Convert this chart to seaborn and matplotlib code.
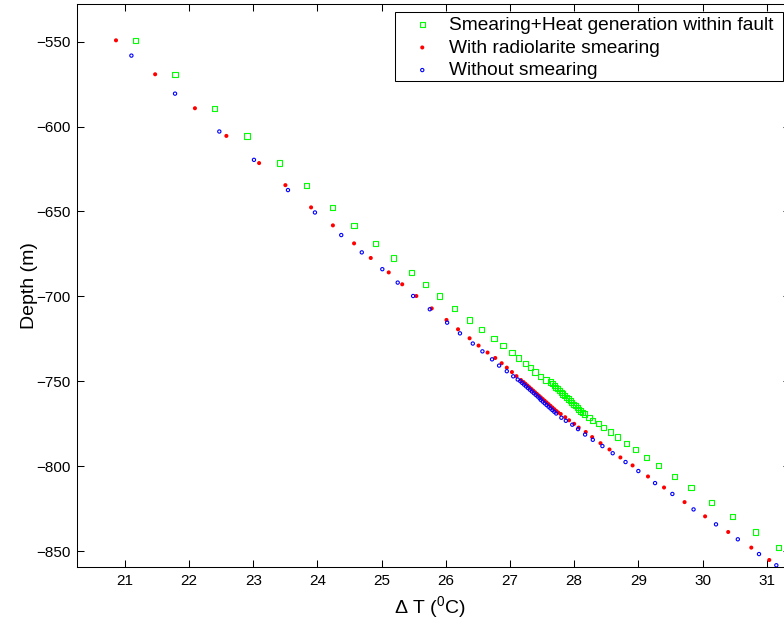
import numpy as np
import matplotlib
matplotlib.use("Agg")
import matplotlib.pyplot as plt
from matplotlib.patches import Rectangle
import seaborn as sns

# depths shared by the two smearing runs (m)
depth_smear = [
    -549.2, -569.2, -589.2, -605.5, -621.5, -634.5, -647.6, -658.2, -668.8,
    -677.4, -685.9, -692.9, -699.8, -707.1, -713.9, -719.4, -724.7, -729.0,
    -733.1, -736.3, -739.4, -742.0, -744.6, -747.0, -749.3,
    -750.5, -751.5, -752.5, -753.5, -754.5, -755.5, -756.5, -757.5, -758.5,
    -759.5, -760.5, -761.5, -762.5, -763.5, -764.5, -765.5, -766.5, -767.5,
    -768.4,
    -769.3, -771.2, -773.0, -775.1, -777.3, -779.9, -782.9, -786.5, -790.2,
    -794.9, -799.6, -806.1, -812.6, -821.2, -829.6, -838.8, -848.0, -855.3,
]

# Smearing + heat generation within fault
dT_heat = [
    21.16, 21.78, 22.39, 22.90, 23.41, 23.83, 24.24, 24.57, 24.91,
    25.19, 25.46, 25.68, 25.90, 26.14, 26.37, 26.56, 26.75, 26.89,
    27.03, 27.13, 27.24, 27.32, 27.39, 27.48, 27.56,
    27.63, 27.66, 27.69, 27.71, 27.74, 27.77, 27.80, 27.82, 27.85,
    27.88, 27.91, 27.94, 27.96, 27.99, 28.02, 28.05, 28.07, 28.10,
    28.13,
    28.16, 28.23, 28.29, 28.38, 28.46, 28.57, 28.67, 28.81, 28.95,
    29.13, 29.31, 29.56, 29.82, 30.14, 30.47, 30.83, 31.19, 31.45,
]

# With radiolarite smearing
dT_smear = [
    20.86, 21.47, 22.09, 22.58, 23.09, 23.50, 23.90, 24.24, 24.57,
    24.83, 25.11, 25.32, 25.54, 25.78, 26.01, 26.19, 26.37, 26.51,
    26.65, 26.77, 26.87, 26.95, 27.03, 27.10, 27.17,
    27.21, 27.24, 27.27, 27.30, 27.33, 27.36, 27.39, 27.42, 27.45,
    27.48, 27.51, 27.54, 27.57, 27.60, 27.63, 27.66, 27.69, 27.72,
    27.75,
    27.79, 27.86, 27.92, 28.00, 28.07, 28.18, 28.28, 28.41, 28.55,
    28.72, 28.91, 29.15, 29.40, 29.72, 30.04, 30.40, 30.76, 31.04,
]

# Without smearing
depth_plain = [
    -558.2, -580.6, -602.9, -619.6, -637.4, -650.6, -663.9, -674.1, -684.0,
    -691.9, -699.8, -707.6, -715.5, -721.8, -727.8, -732.4, -737.1, -740.8,
    -744.1, -747.1, -749.0,
    -750.0, -751.0, -752.0, -753.0, -754.0, -755.0, -756.0, -757.0, -758.0,
    -759.0, -760.0, -761.0, -762.0, -763.0, -764.0, -765.0, -766.0, -767.0,
    -768.0, -769.0,
    -771.5, -773.3, -775.6, -778.2, -781.4, -784.5, -788.2, -792.4, -797.6,
    -802.9, -810.0, -816.4, -825.5, -834.3, -843.1, -851.8, -858.4,
]
dT_plain = [
    21.10, 21.78, 22.47, 23.01, 23.54, 23.96, 24.37, 24.69, 25.01,
    25.25, 25.49, 25.75, 26.02, 26.22, 26.42, 26.57, 26.72, 26.83,
    26.95, 27.05, 27.12,
    27.16, 27.19, 27.22, 27.25, 27.28, 27.31, 27.34, 27.37, 27.40,
    27.43, 27.46, 27.48, 27.51, 27.54, 27.57, 27.60, 27.63, 27.66,
    27.69, 27.72,
    27.80, 27.87, 27.97, 28.06, 28.17, 28.29, 28.44, 28.60, 28.80,
    29.00, 29.26, 29.53, 29.86, 30.21, 30.55, 30.88, 31.15,
]

labels = ["Smearing+Heat generation within fault",
          "With radiolarite smearing",
          "Without smearing"]

sns.set_style("ticks")
plt.rcParams['font.family'] = ['Liberation Sans', 'DejaVu Sans']
plt.rcParams['mathtext.fontset'] = 'custom'
plt.rcParams['mathtext.rm'] = 'Liberation Sans'
plt.rcParams['mathtext.it'] = 'Liberation Sans:italic'
plt.rcParams['text.color'] = 'black'
plt.rcParams['axes.edgecolor'] = 'black'
plt.rcParams['axes.labelcolor'] = 'black'
plt.rcParams['xtick.color'] = 'black'
plt.rcParams['ytick.color'] = 'black'

W, H = 784, 626
fig = plt.figure(figsize=(W / 100, H / 100), dpi=100)
ax = fig.add_axes([77.3 / W, 1 - 567.3 / H, (790 - 77.3) / W, (567.3 - 4) / H])

sns.scatterplot(x=dT_heat, y=depth_smear, ax=ax, marker="s", s=14,
                color="none", edgecolor=(0, 1, 0), linewidth=0.8,
                label=labels[0])
sns.scatterplot(x=dT_smear, y=depth_smear, ax=ax, marker="o", s=8.5,
                color=(1, 0, 0), edgecolor="none", linewidth=0,
                label=labels[1])
sns.scatterplot(x=dT_plain, y=depth_plain, ax=ax, marker="o", s=5.5,
                color="none", edgecolor=(0, 0, 1), linewidth=0.8,
                label=labels[2])

ax.set_xlim(20.257, 31.363)
ax.set_ylim(-859.6, -527.8)
ax.set_xticks(np.arange(21, 32, 1))
ax.set_yticks(np.arange(-850, -549, 50))
ax.tick_params(direction="in", top=True, right=True, length=5, width=0.75,
               labelsize=11, pad=5)
for sp in ax.spines.values():
    sp.set_linewidth(0.75)
    sp.set_color("black")

ax.set_xlabel(r"$\Delta$ T ($^0$C)", fontsize=14)
ax.set_ylabel("Depth (m)", fontsize=14)
ax.xaxis.set_label_coords(0.495, -0.047)
ax.yaxis.set_label_coords(-0.055, 0.5)

# legend box drawn separately so the padding matches the matlab one
box = Rectangle((394.7 / W, 1 - 81 / H), (783.3 - 394.7) / W, (81 - 11.7) / H,
                transform=fig.transFigure, facecolor="white", edgecolor="black",
                linewidth=0.75, zorder=4.9, clip_on=False)
ax.add_artist(box)

leg = ax.legend(loc="upper left", bbox_to_anchor=(403.1 / W, 1 - 16.5 / H),
                bbox_transform=fig.transFigure, fontsize=13.8, frameon=False,
                borderaxespad=0, borderpad=0, labelspacing=0.27,
                handlelength=2.0, handletextpad=0.4)
leg.set_zorder(5)

fig.savefig("out.png", dpi=100)
